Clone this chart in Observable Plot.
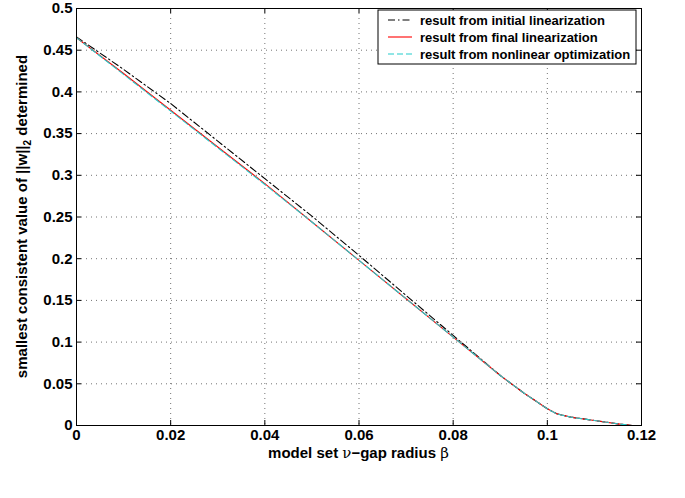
<!DOCTYPE html>
<html>
<head>
<meta charset="utf-8">
<script src="https://cdn.jsdelivr.net/npm/d3@7"></script>
<script src="https://cdn.jsdelivr.net/npm/@observablehq/plot@0.6"></script>
<style>
  html, body { margin: 0; padding: 0; background: #fff; }
  #chart svg { display: block; }
</style>
</head>
<body>
<div id="chart"></div>
<script>
// ---- data ----
const xTicks = [0, 0.02, 0.04, 0.06, 0.08, 0.1, 0.12];
const xTickLabels = ["0", "0.02", "0.04", "0.06", "0.08", "0.1", "0.12"];
const yTicks = [0, 0.05, 0.1, 0.15, 0.2, 0.25, 0.3, 0.35, 0.4, 0.45, 0.5];
const yTickLabels = ["0", "0.05", "0.1", "0.15", "0.2", "0.25", "0.3", "0.35", "0.4", "0.45", "0.5"];

const seriesNames = [
  "result from initial linearization",
  "result from final linearization",
  "result from nonlinear optimization"
];

const beta = [0, 0.01, 0.02, 0.03, 0.04, 0.05, 0.06, 0.07, 0.08, 0.085, 0.09, 0.095, 0.1, 0.102, 0.105, 0.11, 0.115, 0.118, 0.12];
const initialLin = [0.466, 0.427, 0.386, 0.341, 0.296, 0.251, 0.204, 0.156, 0.108, 0.084, 0.060, 0.039, 0.020, 0.014, 0.010, 0.006, 0.002, 0.000, 0.000];
const finalLin   = [0.465, 0.422, 0.378, 0.334, 0.290, 0.244, 0.198, 0.152, 0.106, 0.083, 0.060, 0.039, 0.020, 0.014, 0.010, 0.006, 0.002, 0.000, 0.000];
const nonlinOpt  = [0.465, 0.421, 0.377, 0.333, 0.289, 0.244, 0.198, 0.152, 0.106, 0.083, 0.060, 0.039, 0.020, 0.014, 0.010, 0.006, 0.002, 0.000, 0.000];

const seriesStyles = [
  {stroke: "#000000", dash: "7,3,1.5,3"},
  {stroke: "#ff0000", dash: null},
  {stroke: "#22cccc", dash: "6,3"}
];
const seriesValues = [initialLin, finalLin, nonlinOpt];

// ---- layout ----
const W = 685, H = 498;
const mL = 76, mR = 44, mT = 8, mB = 73;
const innerW = W - mL - mR, innerH = H - mT - mB;
const fontFam = "'Liberation Sans', Arial, sans-serif";

const lineMarks = seriesValues.map((vals, s) => {
  const data = beta.map((b, i) => ({b, v: vals[i]}));
  const opts = {x: "b", y: "v", stroke: seriesStyles[s].stroke, strokeWidth: 1.1};
  if (seriesStyles[s].dash) opts.strokeDasharray = seriesStyles[s].dash;
  return Plot.line(data, opts);
});

const chart = Plot.plot({
  width: W, height: H,
  marginLeft: mL, marginRight: mR, marginTop: mT, marginBottom: mB,
  style: {fontFamily: fontFam, fontSize: "15px", fontWeight: "bold", background: "#fff", color: "#000", overflow: "visible"},
  x: {domain: [0, 0.12]},
  y: {domain: [0, 0.5]},
  marks: [
    Plot.gridX(xTicks, {stroke: "#000", strokeOpacity: 0.55, strokeDasharray: "1,4"}),
    Plot.gridY(yTicks, {stroke: "#000", strokeOpacity: 0.55, strokeDasharray: "1,4"}),
    ...lineMarks,
    Plot.tickX(xTicks, {x: d => d, insetTop: innerH - 5, stroke: "#000"}),
    Plot.tickX(xTicks, {x: d => d, insetBottom: innerH - 5, stroke: "#000"}),
    Plot.tickY(yTicks, {y: d => d, insetRight: innerW - 5, stroke: "#000"}),
    Plot.tickY(yTicks, {y: d => d, insetLeft: innerW - 5, stroke: "#000"}),
    Plot.frame({stroke: "#000", strokeWidth: 1}),
    Plot.axisX(xTicks, {tickSize: 0, tickPadding: 4, tickFormat: (d, i) => xTickLabels[i], label: null, fontSize: 15}),
    Plot.axisY(yTicks, {tickSize: 0, tickPadding: 4, tickFormat: (d, i) => yTickLabels[i], label: null, fontSize: 15})
  ]
});

document.getElementById("chart").appendChild(chart);

// ---- axis titles and legend (layout only) ----
const svg = d3.select(chart);

// y title
const yt = svg.append("text")
  .attr("transform", `translate(27,${mT + innerH / 2}) rotate(-90)`)
  .attr("text-anchor", "middle")
  .attr("font-family", fontFam).attr("font-size", 15).attr("font-weight", "bold")
  .attr("fill", "#000");
yt.append("tspan").text("smallest consistent value of ||w||");
yt.append("tspan").attr("font-size", 10).attr("dy", 4).text("2");
yt.append("tspan").attr("dy", -4).text(" determined");

// x title
const xt = svg.append("text")
  .attr("x", mL + innerW / 2).attr("y", mT + innerH + 33)
  .attr("text-anchor", "middle")
  .attr("font-family", fontFam).attr("font-size", 15).attr("font-weight", "bold")
  .attr("fill", "#000");
xt.append("tspan").text("model set ");
xt.append("tspan").attr("font-weight", "normal").attr("font-family", "'DejaVu Serif', serif").text("ν");
xt.append("tspan").text("\u2212gap radius ");
xt.append("tspan").attr("font-weight", "normal").attr("font-family", "'DejaVu Serif', serif").text("β");

// legend
const lg = svg.append("g").attr("transform", "translate(378,10)");
lg.append("rect").attr("width", 258).attr("height", 54).attr("fill", "#fff").attr("stroke", "#000").attr("stroke-width", 1);
seriesNames.forEach((name, i) => {
  const y = 10 + i * 17;
  const ln = lg.append("line").attr("x1", 10).attr("x2", 34).attr("y1", y).attr("y2", y)
    .attr("stroke", seriesStyles[i].stroke).attr("stroke-width", 1.1);
  if (seriesStyles[i].dash) ln.attr("stroke-dasharray", seriesStyles[i].dash);
  lg.append("text").attr("x", 42).attr("y", y + 4.5)
    .attr("text-anchor", "start")
    .attr("font-family", fontFam).attr("font-size", 13).attr("font-weight", "bold")
    .attr("fill", "#000").text(name);
});
</script>
</body>
</html>
